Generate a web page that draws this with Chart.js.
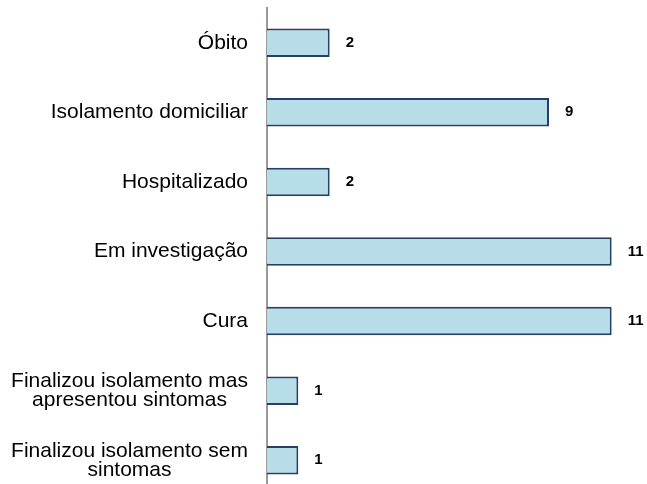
<!DOCTYPE html>
<html lang="pt">
	<head>
		<meta charset="UTF-8" />
		<title>Situação dos casos</title>
		<style>
			html, body {
				margin: 0;
				padding: 0;
				background: #fff;
				overflow: hidden;
			}
			canvas {
				display: block;
			}
		</style>
		<script src="https://cdn.jsdelivr.net/npm/chart.js"></script>
	</head>
	<body>
		<canvas id="chart" width="647" height="500"></canvas>
		<script>
			const categories = [
				["Óbito"],
				["Isolamento domiciliar"],
				["Hospitalizado"],
				["Em investigação"],
				["Cura"],
				["Finalizou isolamento mas", "apresentou sintomas"],
				["Finalizou isolamento sem", "sintomas"],
			];
			const casos = [2, 9, 2, 11, 11, 1, 1];

			const labelFont = '21px "Liberation Sans", Arial, sans-serif';
			const valueFont = 'bold 15px "Liberation Sans", Arial, sans-serif';

			// category labels: right aligned block, lines centred inside it
			const categoryLabels = {
				id: "categoryLabels",
				afterDraw(chart) {
					const ctx = chart.ctx;
					const y = chart.scales.y;
					const right = chart.chartArea.left - 19;
					const lineH = 19;
					ctx.save();
					ctx.font = labelFont;
					ctx.fillStyle = "#000";
					ctx.textAlign = "center";
					ctx.textBaseline = "middle";
					categories.forEach((lines, i) => {
						const w = Math.max(...lines.map((l) => ctx.measureText(l).width));
						const cx = right - w / 2;
						const cy = y.getPixelForValue(i);
						const top = cy - ((lines.length - 1) * lineH) / 2;
						lines.forEach((l, j) => ctx.fillText(l, cx, top + j * lineH));
					});
					ctx.restore();
				},
			};

			const valueLabels = {
				id: "valueLabels",
				afterDatasetsDraw(chart) {
					const ctx = chart.ctx;
					const meta = chart.getDatasetMeta(0);
					ctx.save();
					ctx.font = valueFont;
					ctx.fillStyle = "#000";
					ctx.textAlign = "left";
					ctx.textBaseline = "middle";
					meta.data.forEach((bar, i) => {
						ctx.fillText(String(casos[i]), bar.x + 16, bar.y);
					});
					ctx.restore();
				},
			};

			new Chart(document.getElementById("chart"), {
				type: "bar",
				data: {
					labels: categories.map((c) => c.join(" ")),
					datasets: [
						{
							data: casos,
							backgroundColor: "#b7dde8",
							borderColor: "#253f66",
							borderWidth: 2,
							barPercentage: 0.41,
							categoryPercentage: 1,
						},
					],
				},
				options: {
					indexAxis: "y",
					responsive: false,
					animation: false,
					layout: {
						padding: { top: 8, bottom: 5, left: 0, right: 4 },
					},
					plugins: {
						legend: { display: false },
						tooltip: { enabled: false },
					},
					scales: {
						x: {
							display: false,
							min: 0,
							max: 12,
						},
						y: {
							afterFit(scale) {
								scale.width = 267;
							},
							ticks: { display: false },
							grid: { display: false, drawTicks: false },
							border: { display: true, color: "#999999", width: 2 },
						},
					},
				},
				plugins: [categoryLabels, valueLabels],
			});
		</script>
	</body>
</html>
